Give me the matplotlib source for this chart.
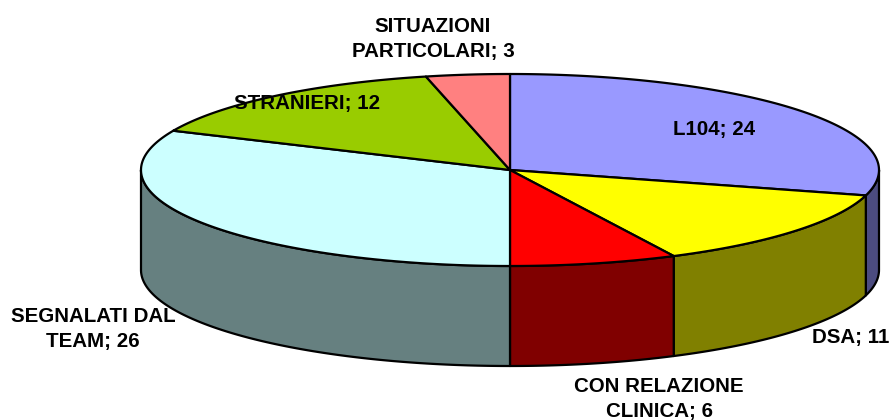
import numpy as np
import matplotlib
matplotlib.use("Agg")
import matplotlib.pyplot as plt
from matplotlib.patches import Polygon

categories = ["L104", "DSA", "CON RELAZIONE\nCLINICA", "SEGNALATI DAL\nTEAM", "STRANIERI", "SITUAZIONI\nPARTICOLARI"]
values = [24, 11, 6, 26, 12, 3]
top_colors = ["#9999FF", "#FFFF00", "#FF0000", "#CCFFFF", "#99CC00", "#FF8080"]
side_colors = ["#4C4C80", "#808000", "#800000", "#668080", "#4C6600", "#804040"]
label_xy = [(714, 130), (851, 338), (659, 399), (93, 329), (307, 103), (433, 39)]

CX, CY, RX, RY, DEPTH = 510, 170, 369, 96, 100

plt.rcParams["font.family"] = ["Liberation Sans", "DejaVu Sans"]
fig = plt.figure(figsize=(8.91, 4.20), dpi=100)
ax = fig.add_axes([0, 0, 1, 1])
ax.set_xlim(0, 891)
ax.set_ylim(420, 0)
ax.axis("off")


def rim(a0, a1, dy=0):
    t = np.radians(np.linspace(a0, a1, max(int(abs(a1 - a0) * 2), 2)))
    return np.column_stack([CX + RX * np.sin(t), CY + dy - RY * np.cos(t)])


edges = np.concatenate([[0], np.cumsum(values)]) / sum(values) * 360
for a0, a1, sc in zip(edges[:-1], edges[1:], side_colors):
    lo, hi = max(a0, 90), min(a1, 270)
    if lo < hi:
        pts = np.vstack([rim(lo, hi), rim(lo, hi, DEPTH)[::-1]])
        ax.add_patch(Polygon(pts, closed=True, fc=sc, ec="black", lw=1.6, joinstyle="round"))
for a0, a1, tc in zip(edges[:-1], edges[1:], top_colors):
    pts = np.vstack([[CX, CY], rim(a0, a1)])
    ax.add_patch(Polygon(pts, closed=True, fc=tc, ec="black", lw=1.6, joinstyle="round"))

for c, v, (x, y) in zip(categories, values, label_xy):
    ax.text(x, y, f"{c}; {v}", ha="center", va="center", fontsize=14.8, fontweight="bold",
            color="black", linespacing=1.36, clip_on=False)

fig.savefig("out.png", dpi=100)
